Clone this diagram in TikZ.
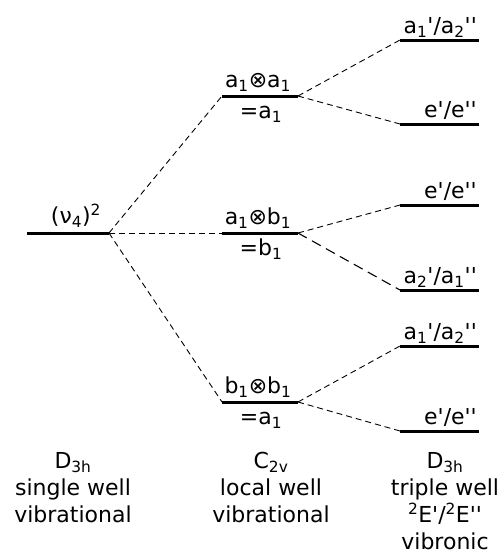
\documentclass[tikz,border=0pt]{standalone}
\usepackage{fontspec}
\newfontfamily\labfont{DejaVu Sans}
\tikzset{
  level/.style={line width=3pt},
  link/.style={line width=0.9pt, dash pattern=on 6pt off 4pt},
  lab/.style={font=\labfont\fontsize{22}{27}\selectfont, inner sep=0pt, anchor=base},
  col/.style={font=\labfont\fontsize{22}{27}\selectfont, inner sep=0pt, align=center, anchor=base}
}
\newcommand{\sbs}[1]{\textsubscript{#1}}
\newcommand{\sps}[1]{\textsuperscript{#1}}
\begin{document}
\begin{tikzpicture}[x=1pt, y=-1pt]
  \useasboundingbox (0,0) rectangle (498,550);

  % level end points
  \coordinate (sL) at (27,233);  \coordinate (sR) at (109,233);
  \coordinate (aaL) at (222,96);  \coordinate (aaR) at (298,96);
  \coordinate (abL) at (222,233); \coordinate (abR) at (298,233);
  \coordinate (bbL) at (222,402); \coordinate (bbR) at (298,402);
  \foreach \n/\y in {r1/40, r2/124, r3/205, r4/290, r5/346, r6/431}{
    \coordinate (\n L) at (400,\y);
    \coordinate (\n R) at (479,\y);
  }

  % levels
  \foreach \n in {s, aa, ab, bb, r1, r2, r3, r4, r5, r6}{
    \draw[level] (\n L) -- (\n R);
  }

  % correlation lines
  \foreach \a/\b in {sR/aaL, sR/abL, sR/bbL, aaR/r1L, aaR/r2L, abR/r3L, bbR/r5L, bbR/r6L}{
    \draw[link] (\a) -- (\b);
  }
  \draw[link, line width=1.1pt, dash pattern=on 10pt off 6pt] (abR) -- (r4L);

  % level labels
  \node[lab] (slab) at (76,223) {(ν\sbs{4})\sps{2}};
  \node[lab] (aalab) at (258,87) {a\sbs{1}⊗a\sbs{1}};
  \node[lab] (aaeq) at (261,118) {=a\sbs{1}};
  \node[lab] (ablab) at (258,224) {a\sbs{1}⊗b\sbs{1}};
  \node[lab] (abeq) at (261,255) {=b\sbs{1}};
  \node[lab] (bblab) at (258,393) {b\sbs{1}⊗b\sbs{1}};
  \node[lab] (bbeq) at (261,424) {=a\sbs{1}};
  \foreach \n/\t in {r1/{a\sbs{1}'/a\sbs{2}''}, r2/{e'/e''}, r3/{e'/e''},
                     r4/{a\sbs{2}'/a\sbs{1}''}, r5/{a\sbs{1}'/a\sbs{2}''}, r6/{e'/e''}}{
    \node[lab, anchor=base east] (\n lab) at ([xshift=-2pt, yshift=7pt]\n R) {\t};
  }

  % column captions
  \node[col] (colA) at (73,522) {D\sbs{3h}\\single well\\vibrational};
  \node[col] (colB) at (271,522) {C\sbs{2v}\\local well\\vibrational};
  \node[col] (colC) at (445,549) {D\sbs{3h}\\triple well\\\sps{2}E'/\sps{2}E''\\vibronic};
\end{tikzpicture}
\end{document}
